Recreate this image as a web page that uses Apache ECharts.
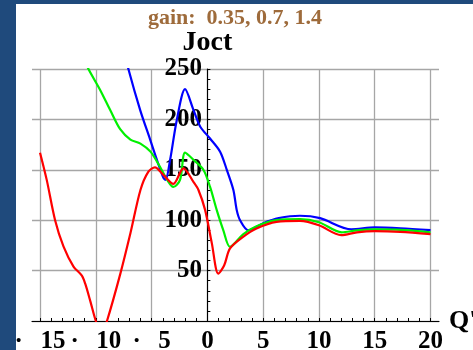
<!DOCTYPE html>
<html>
<head>
<meta charset="utf-8">
<script src="https://cdn.jsdelivr.net/npm/echarts@6/dist/echarts.min.js"></script>
<style>
html,body{margin:0;padding:0;background:#fff;}
#chart{width:473px;height:350px;}
</style>
</head>
<body>
<div id="chart"></div>
<script>
// ---- data ----
var redX   = [-15,-14.4,-13.65,-12.9,-12.0,-11.25,-10.95,-10.5,-10.0,-9.5,-9.0,-7.8,-6.9,-6.0,-5.3,-4.7,-3.95,-3.05,-2.15,-1.25,-0.8,-0.2,0.4,0.98,1.5,2.03,3.2,4.4,6.2,8.3,10,12.0,13.4,15,17.3,20];
var redY   = [167,140,100,74,54,45,37,20,0,-14,0,47,87,130,148,152.5,145,136,151.5,138,130,110,77,47,55,72,83.5,91.8,98.4,99.4,95,85.2,88,89.2,88.5,86.2];
var greenX = [-11.5,-10.66,-9.6,-8.7,-7.8,-6.9,-6.0,-5.1,-4.25,-3.6,-3.05,-2.45,-2.0,-1.25,-0.36,0.24,0.84,1.43,2.03,3.2,4.4,6.2,8.3,10,12.04,13.4,15,17.3,20];
var greenY = [270,250,229,209,190,180,176,168,153,140,133,140,167,160,150,133,110,90,73.6,86,94,100,101,98,88,90,90.8,90.5,88];
var blueX  = [-7.5,-7.08,-6.03,-5.13,-4.53,-3.94,-3.75,-3.34,-2.74,-2.0,-1.25,-0.65,0.24,1.14,1.74,2.33,2.63,2.93,3.67,5.0,6.4,8.3,10.1,12.9,15,17.3,20];
var blueY  = [270,250,209.5,180,160,142,140,160,199.5,230,209.5,193,181,168,150,130,110,100,90,97,102,104.4,102,91,92.8,92,90.2];
var xGridValues  = [-15,-10,-5,0,5,10,15,20];
var xMinorValues = [];
for (var i = -15; i <= 20; i++) xMinorValues.push(i);
var yTickLabels = [50,100,150,200,250];
var titleText = 'gain:  0.35, 0.7, 1.4';
var yName = 'Joct';
var xName = "Q'";

function pairs(xs, ys){ return xs.map(function(x,i){ return [x, ys[i]]; }); }

var serif = 'Liberation Serif';
var chart = echarts.init(document.getElementById('chart'));
var lineBase = { type:'line', showSymbol:false, smooth:0.3, clip:true, xAxisIndex:0, yAxisIndex:0 };

chart.setOption({
  animation:false,
  backgroundColor:'#ffffff',
  graphic:[
    {type:'rect', left:0, top:0, shape:{width:16, height:350}, style:{fill:'#1f4a7c'}, z:100},
    {type:'rect', left:0, top:0, shape:{width:473, height:4}, style:{fill:'#1f4a7c'}, z:100},
    {type:'text', x:235, y:18, style:{text:titleText, fill:'#9e6b3b', font:'bold 22px "Liberation Serif"', textAlign:'center', textVerticalAlign:'middle'}}
  ],
  grid:{left:32, right:34, top:69, bottom:29, containLabel:false, outerBoundsMode:'none'},
  xAxis:[
    {
      type:'value', min:-15.72, max:20.76, position:'bottom',
      name:xName, nameLocation:'end', nameGap:8,
      nameTextStyle:{fontFamily:serif, fontWeight:'bold', fontSize:26, color:'#000', verticalAlign:'middle'},
      axisLine:{onZero:false, lineStyle:{color:'#000', width:1.2}},
      axisTick:{show:true, inside:true, length:3, customValues:xMinorValues, lineStyle:{color:'#000'}},
      axisLabel:{customValues:xGridValues, margin:8, fontFamily:serif, fontWeight:'bold', fontSize:25, color:'#000',
        formatter:function(v){ return v < 0 ? '\u00B7\u2002\u2009' + (-v) : String(v); }},
      splitLine:{show:false}
    },
    {
      type:'value', min:-15.72, max:20.76, position:'top',
      axisLine:{show:false}, axisTick:{show:false, customValues:[-15,-10,-5,5,10,15,20]},
      axisLabel:{show:false},
      splitLine:{show:true, lineStyle:{color:'#a6a6a6', width:1.3}}
    }
  ],
  yAxis:{
    type:'value', min:0, max:250, interval:50,
    name:yName, nameLocation:'end', nameGap:5,
    nameTextStyle:{fontFamily:serif, fontWeight:'bold', fontSize:28, color:'#000', align:'center'},
    axisLine:{onZero:true, onZeroAxisIndex:0, lineStyle:{color:'#000', width:1.2}},
    axisTick:{show:true, inside:true, length:3, lineStyle:{color:'#000'}},
    minorTick:{show:true, splitNumber:5, length:3, lineStyle:{color:'#000'}},
    axisLabel:{margin:-170, fontFamily:serif, fontWeight:'bold', fontSize:25, color:'#000',
      customValues:yTickLabels},
    splitLine:{show:true, lineStyle:{color:'#a6a6a6', width:1.3}}
  },
  series:[
    Object.assign({}, lineBase, {name:'0.35', data:pairs(redX, redY), lineStyle:{color:'#ff0000', width:2.2}, itemStyle:{color:'#ff0000'}, z:3}),
    Object.assign({}, lineBase, {name:'0.7', data:pairs(greenX, greenY), lineStyle:{color:'#00f000', width:2.2}, itemStyle:{color:'#00f000'}, z:2}),
    Object.assign({}, lineBase, {name:'1.4', data:pairs(blueX, blueY), lineStyle:{color:'#0000ff', width:2.2}, itemStyle:{color:'#0000ff'}, z:1})
  ]
});
</script>
</body>
</html>
